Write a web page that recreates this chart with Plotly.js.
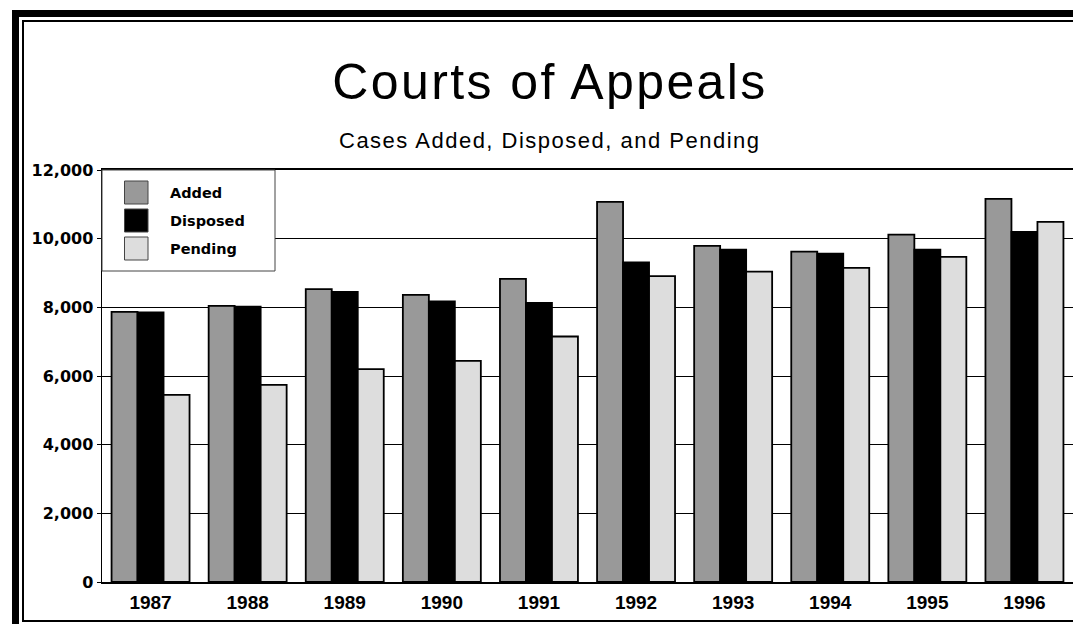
<!DOCTYPE html>
<html>
<head>
<meta charset="utf-8">
<script src="https://cdn.plot.ly/plotly-3.0.1.min.js"></script>
<style>
  html, body { margin: 0; padding: 0; background: #ffffff; }
  #chart { width: 1073px; height: 624px; }
</style>
</head>
<body>
<div id="chart"></div>
<script>
// ---- data ----
const years = ['1987', '1988', '1989', '1990', '1991', '1992', '1993', '1994', '1995', '1996'];
const added    = [7870, 8040, 8530, 8360, 8830, 11070, 9790, 9620, 10120, 11160];
const disposed = [7850, 8020, 8450, 8170, 8130, 9310, 9680, 9560, 9680, 10200];
const pending  = [5450, 5740, 6200, 6440, 7150, 8910, 9040, 9150, 9470, 10490];
const seriesNames = ['Added', 'Disposed', 'Pending'];
const seriesValues = [added, disposed, pending];
const seriesColors = ['#999999', '#000000', '#dddddd'];
const yTickVals = [0, 2000, 4000, 6000, 8000, 10000, 12000];
const yTickText = ['0', '2,000', '4,000', '6,000', '8,000', '10,000', '12,000'];
const chartTitle = 'Courts of Appeals';
const chartSubtitle = 'Cases Added, Disposed, and Pending';

// ---- geometry helpers (plot area: x 102..1073, y 170..582) ----
const W = 1073, H = 624;
const M = { l: 102, r: 0, t: 170, b: 42 };
const PW = W - M.l - M.r, PH = H - M.t - M.b;
const px = x => (x - M.l) / PW;
const py = y => (H - M.b - y) / PH;

const traces = seriesNames.map((name, i) => ({
  type: 'bar',
  name: name,
  x: years,
  y: seriesValues[i],
  marker: { color: seriesColors[i], line: { color: '#000000', width: 1.8 } },
  showlegend: false,
  hoverinfo: 'x+y+name'
}));

const shapes = [
  // outer thick frame (top + left visible)
  { type: 'rect', xref: 'paper', yref: 'paper', x0: px(15.5), x1: px(1200), y0: py(13.5), y1: py(700),
    line: { color: '#000000', width: 7 }, fillcolor: 'rgba(0,0,0,0)', layer: 'above' },
  // inner thin frame
  { type: 'rect', xref: 'paper', yref: 'paper', x0: px(23), x1: px(1200), y0: py(21), y1: py(621),
    line: { color: '#000000', width: 2 }, fillcolor: 'rgba(0,0,0,0)', layer: 'above' },
  // legend box
  { type: 'rect', xref: 'paper', yref: 'paper', x0: px(102), x1: px(275), y0: py(170), y1: py(271),
    line: { color: '#444444', width: 1 }, fillcolor: '#ffffff', layer: 'above' }
];
const annotations = [
  { xref: 'paper', yref: 'paper', x: px(550), y: py(141), xanchor: 'center', yanchor: 'middle',
    showarrow: false, text: '<span style="letter-spacing:1.5px">' + chartSubtitle + '</span>',
    font: { family: 'Liberation Sans, Arial, sans-serif', size: 22, color: '#000000' } }
];
seriesNames.forEach((name, i) => {
  const top = 181 + i * 28;
  shapes.push({ type: 'rect', xref: 'paper', yref: 'paper', x0: px(124.5), x1: px(148), y0: py(top), y1: py(top + 23),
    line: { color: '#444444', width: 1 }, fillcolor: seriesColors[i], layer: 'above' });
  annotations.push({ xref: 'paper', yref: 'paper', x: px(168), y: py(top + 11.5), xanchor: 'left', yanchor: 'middle',
    showarrow: false, text: name,
    font: { family: 'DejaVu Sans, sans-serif', size: 14.5, weight: 'bold', color: '#000000' } });
});

const layout = {
  width: W, height: H,
  margin: M,
  paper_bgcolor: '#ffffff', plot_bgcolor: '#ffffff',
  title: {
    text: '<span style="letter-spacing:2.4px">' + chartTitle + '</span>',
    font: { family: 'Liberation Sans, Arial, sans-serif', size: 50, color: '#000000' },
    x: 550 / W, xref: 'container', xanchor: 'center',
    y: 1 - 81 / H, yref: 'container', yanchor: 'middle'
  },
  barmode: 'group',
  bargap: 0.197,
  bargroupgap: 0,
  showlegend: false,
  xaxis: {
    type: 'category',
    range: [-0.5, 9.5],
    showgrid: false,
    showline: true, linecolor: '#000000', linewidth: 2, mirror: true,
    ticks: '',
    tickfont: { family: 'Liberation Sans, Arial, sans-serif', size: 19, weight: 'bold', color: '#000000' },
    ticklabelstandoff: 2,
    fixedrange: true
  },
  yaxis: {
    range: [0, 12000],
    tickvals: yTickVals, ticktext: yTickText,
    showgrid: true, gridcolor: '#000000', gridwidth: 1,
    zeroline: false,
    showline: true, linecolor: '#000000', linewidth: 1.5,
    ticks: 'outside', ticklen: 4, tickwidth: 1, tickcolor: '#000000',
    tickfont: { family: 'DejaVu Sans, sans-serif', size: 16, weight: 'bold', color: '#000000' },
    fixedrange: true
  },
  shapes: shapes,
  annotations: annotations
};

Plotly.newPlot('chart', traces, layout, { displayModeBar: false, staticPlot: true });
</script>
</body>
</html>
